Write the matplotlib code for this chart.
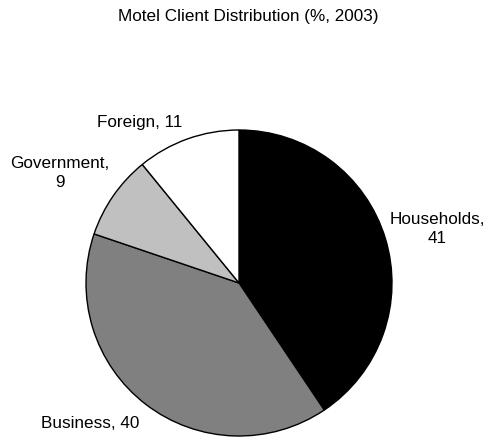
import matplotlib
matplotlib.use("Agg")
import matplotlib.pyplot as plt

categories = ["Households", "Business", "Government", "Foreign"]
values = [41, 40, 9, 11]
colors = ["#000000", "#808080", "#c0c0c0", "#ffffff"]
title = "Motel Client Distribution (%, 2003)"

plt.rcParams['font.family'] = ['Liberation Sans', 'DejaVu Sans']

W, H = 489, 441
fig = plt.figure(figsize=(W / 100, H / 100), dpi=100)
cx, cy, r = 239, 283, 153
ax = fig.add_axes([(cx - r) / W, (H - cy - r) / H, 2 * r / W, 2 * r / H])
ax.pie(values, colors=colors, startangle=90, counterclock=False,
       wedgeprops=dict(edgecolor="black", linewidth=1.0))
ax.set_xlim(-1, 1)
ax.set_ylim(-1, 1)
ax.set_aspect("equal")
ax.axis("off")

fs = 12.3
fig.text(248 / W, 1 - 17 / H, title, ha="center", va="center", fontsize=fs)

label_pos = {
    "Households": (437, 229),
    "Business": (90, 423),
    "Government": (60, 173),
    "Foreign": (140, 122),
}
for cat, val in zip(categories, values):
    x, y = label_pos[cat]
    if cat in ("Households", "Government"):
        txt = f"{cat},\n{val}"
    else:
        txt = f"{cat}, {val}"
    fig.text(x / W, 1 - y / H, txt, ha="center", va="center", fontsize=fs,
             linespacing=1.3)

fig.savefig("out.png", dpi=100)
